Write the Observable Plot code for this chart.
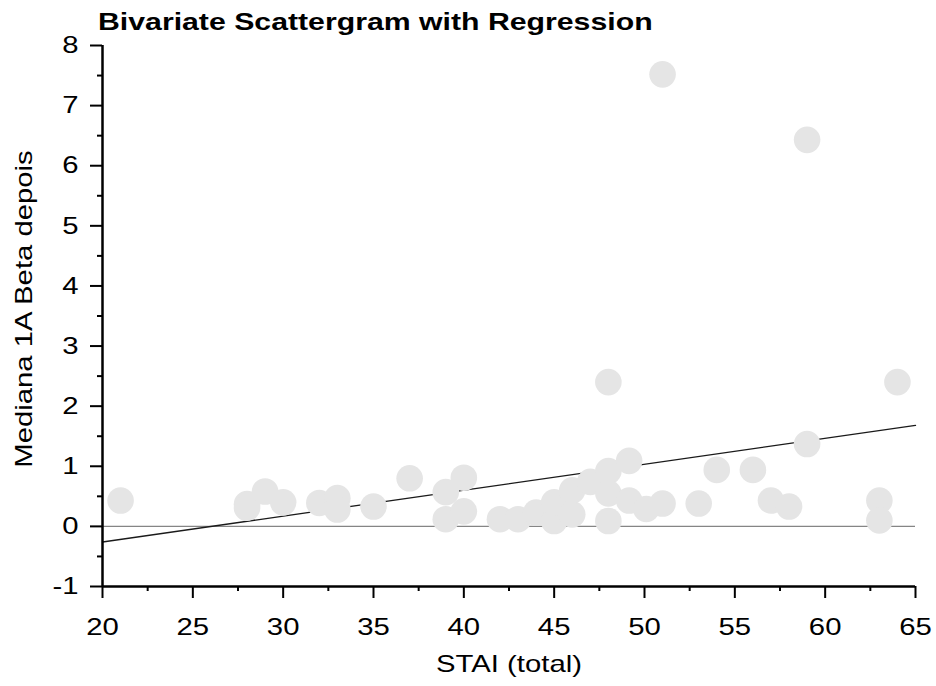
<!DOCTYPE html>
<html>
<head>
<meta charset="utf-8">
<script src="https://cdn.jsdelivr.net/npm/d3@7"></script>
<script src="https://cdn.jsdelivr.net/npm/@observablehq/plot@0.6"></script>
<style>
  html, body { margin: 0; padding: 0; background: #fff; }
  #wrap { width: 936px; height: 686px; position: relative; overflow: hidden; }
  #title { position: relative; height: 36px; }
  #title span {
    position: absolute; left: 98px; top: 8px; line-height: 24px;
    font: bold 24px "Liberation Sans", Arial, sans-serif; color: #000;
    display: inline-block; transform-origin: 0 50%; transform: scaleX(1.26); white-space: nowrap;
  }
  svg { overflow: visible; display: block; }
</style>
</head>
<body>
<div id="wrap">
  <div id="title"><span>Bivariate Scattergram with Regression</span></div>
  <div id="chart"></div>
</div>
<script>
const titleText = "Bivariate Scattergram with Regression";
const xLabel = "STAI (total)";
const yLabel = "Mediana 1A Beta depois";

// STAI (total) scores
const stai = [21, 28, 28, 29, 30, 32, 33, 33, 35, 37, 39, 39, 40, 40, 42, 43, 44, 45, 45, 46, 46, 47,
              48, 48, 48, 48, 49.15, 49.15, 50.1, 51, 51, 53, 54, 56, 57, 58, 59, 59, 63, 63, 64];
// Mediana 1A Beta depois
const beta = [0.43, 0.37, 0.31, 0.58, 0.40, 0.39, 0.47, 0.28, 0.33, 0.80, 0.57, 0.12, 0.81, 0.25, 0.12, 0.12, 0.23, 0.09, 0.40, 0.20, 0.60, 0.74,
              0.92, 0.55, 0.09, 2.40, 1.09, 0.43, 0.29, 0.38, 7.52, 0.38, 0.94, 0.94, 0.43, 0.33, 1.37, 6.43, 0.43, 0.10, 2.40];

// regression line end points (as drawn)
const regX = [20, 65];
const regY = [-0.26, 1.68];

const xTicks = [20, 25, 30, 35, 40, 45, 50, 55, 60, 65];
const xMinorTicks = [22.5, 27.5, 32.5, 37.5, 42.5, 47.5, 52.5, 57.5, 62.5];
const yTicks = [-1, 0, 1, 2, 3, 4, 5, 6, 7, 8];
const yMinorTicks = [-0.5, 0.5, 1.5, 2.5, 3.5, 4.5, 5.5, 6.5, 7.5];

const points = stai.map((x, i) => ({x, y: beta[i]}));
const reg = regX.map((x, i) => ({x, y: regY[i]}));

const chart = Plot.plot({
  width: 936,
  height: 650,
  marginTop: 9,
  marginRight: 21,
  marginBottom: 100,
  marginLeft: 102,
  x: {domain: [20, 65]},
  y: {domain: [-1, 8]},
  style: {fontFamily: '"Liberation Sans", Arial, sans-serif', fontSize: "24px", color: "#000", background: "#fff", overflow: "visible"},
  marks: [
    Plot.ruleY([0], {stroke: "#858585", strokeWidth: 1.3}),
    Plot.line(reg, {x: "x", y: "y", stroke: "#1a1a1a", strokeWidth: 1.3}),
    Plot.dot(points, {x: "x", y: "y", r: 13.3, fill: "#e5e5e5", stroke: "none"}),
    Plot.axisX({ticks: xMinorTicks, tickSize: 5, tickFormat: () => "", strokeWidth: 2, label: null}),
    Plot.axisX({ticks: xTicks, tickSize: 12, tickPadding: 19, strokeWidth: 2, label: null, tickFormat: d => String(d)}),
    Plot.axisY({ticks: yMinorTicks, tickSize: 5, tickFormat: () => "", strokeWidth: 2, label: null}),
    Plot.axisY({ticks: yTicks, tickSize: 12, tickPadding: 12, strokeWidth: 2, label: null, tickFormat: d => String(d)}),
    Plot.ruleX([20], {y1: -1, y2: 8, stroke: "#000", strokeWidth: 2.5}),
    Plot.ruleY([-1], {x1: 20, x2: 65, stroke: "#000", strokeWidth: 2.5}),
    Plot.text([xLabel], {frameAnchor: "bottom", dy: 78, lineAnchor: "middle", fontSize: 24, fill: "#000"}),
    Plot.text([yLabel], {frameAnchor: "left", textAnchor: "middle", rotate: -90, dx: -71, dy: -7, lineAnchor: "bottom", fontSize: 24, fill: "#000"})
  ]
});
document.getElementById("chart").appendChild(chart);

// widen glyphs along the text direction to match the reference's wide rendering,
// keeping each text's anchor point where it was
chart.querySelectorAll("text").forEach(t => {
  if (!t.textContent) return;
  const len = t.getComputedTextLength();
  if (!(len > 0)) return;
  const anchor = getComputedStyle(t).textAnchor;
  const ref = bb => anchor === "middle" ? bb.x + bb.width / 2 : anchor === "end" ? bb.x + bb.width : bb.x;
  const before = ref(t.getBBox());
  t.setAttribute("textLength", (len * 1.22).toFixed(1));
  t.setAttribute("lengthAdjust", "spacingAndGlyphs");
  const after = ref(t.getBBox());
  const shift = before - after;
  if (Math.abs(shift) > 0.5) {
    const x0 = parseFloat(t.getAttribute("x") || "0");
    t.setAttribute("x", (x0 + shift).toFixed(1));
  }
});
</script>
</body>
</html>
